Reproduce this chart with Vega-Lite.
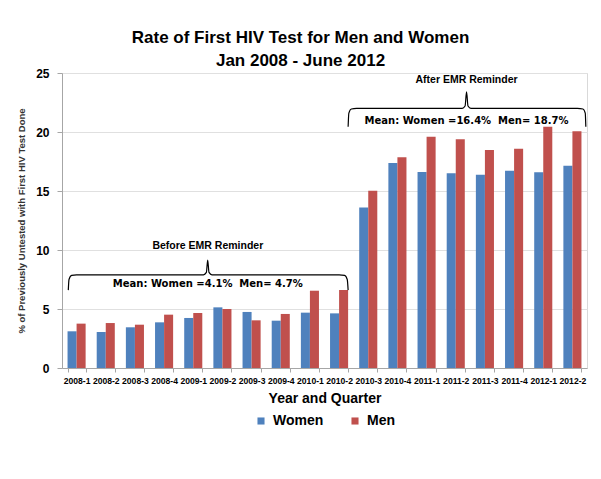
{
  "$schema": "https://vega.github.io/schema/vega-lite/v6.json",
  "width": 525,
  "height": 295,
  "autosize": {"type": "none"},
  "padding": {"left": 62, "top": 73, "right": 14, "bottom": 111},
  "background": "white",
  "title": {
    "text": ["Rate of First HIV Test for  Men and Women", "Jan 2008 - June 2012"],
    "fontSize": 17,
    "fontWeight": "bold",
    "font": "Liberation Sans",
    "color": "#000000",
    "lineHeight": 23,
    "anchor": "middle",
    "frame": "group",
    "dx": -24,
    "offset": -3
  },
  "datasets": {
    "bars": [
      {"q": "2008-1", "sex": "Women", "v": 3.11}, {"q": "2008-1", "sex": "Men", "v": 3.76},
      {"q": "2008-2", "sex": "Women", "v": 3.05}, {"q": "2008-2", "sex": "Men", "v": 3.81},
      {"q": "2008-3", "sex": "Women", "v": 3.45}, {"q": "2008-3", "sex": "Men", "v": 3.67},
      {"q": "2008-4", "sex": "Women", "v": 3.87}, {"q": "2008-4", "sex": "Men", "v": 4.52},
      {"q": "2009-1", "sex": "Women", "v": 4.24}, {"q": "2009-1", "sex": "Men", "v": 4.66},
      {"q": "2009-2", "sex": "Women", "v": 5.14}, {"q": "2009-2", "sex": "Men", "v": 5.0},
      {"q": "2009-3", "sex": "Women", "v": 4.75}, {"q": "2009-3", "sex": "Men", "v": 4.04},
      {"q": "2009-4", "sex": "Women", "v": 4.01}, {"q": "2009-4", "sex": "Men", "v": 4.58},
      {"q": "2010-1", "sex": "Women", "v": 4.69}, {"q": "2010-1", "sex": "Men", "v": 6.55},
      {"q": "2010-2", "sex": "Women", "v": 4.63}, {"q": "2010-2", "sex": "Men", "v": 6.61},
      {"q": "2010-3", "sex": "Women", "v": 13.6}, {"q": "2010-3", "sex": "Men", "v": 15.03},
      {"q": "2010-4", "sex": "Women", "v": 17.37}, {"q": "2010-4", "sex": "Men", "v": 17.85},
      {"q": "2011-1", "sex": "Women", "v": 16.61}, {"q": "2011-1", "sex": "Men", "v": 19.6},
      {"q": "2011-2", "sex": "Women", "v": 16.5}, {"q": "2011-2", "sex": "Men", "v": 19.38},
      {"q": "2011-3", "sex": "Women", "v": 16.38}, {"q": "2011-3", "sex": "Men", "v": 18.47},
      {"q": "2011-4", "sex": "Women", "v": 16.72}, {"q": "2011-4", "sex": "Men", "v": 18.59},
      {"q": "2012-1", "sex": "Women", "v": 16.58}, {"q": "2012-1", "sex": "Men", "v": 20.45},
      {"q": "2012-2", "sex": "Women", "v": 17.15}, {"q": "2012-2", "sex": "Men", "v": 20.06}
    ],
    "braces": [
      {"brace": "before", "bx": 0.216, "v": 6.6},
      {"brace": "before", "bx": 0.24, "v": 7.5},
      {"brace": "before", "bx": 0.33, "v": 7.85},
      {"brace": "before", "bx": 0.5, "v": 7.9},
      {"brace": "before", "bx": 4.85, "v": 7.9},
      {"brace": "before", "bx": 4.95, "v": 8.1},
      {"brace": "before", "bx": 4.995, "v": 9.15},
      {"brace": "before", "bx": 5.04, "v": 8.1},
      {"brace": "before", "bx": 5.14, "v": 7.9},
      {"brace": "before", "bx": 9.5, "v": 7.9},
      {"brace": "before", "bx": 9.69, "v": 7.85},
      {"brace": "before", "bx": 9.78, "v": 7.5},
      {"brace": "before", "bx": 9.81, "v": 6.6},
      {"brace": "after", "bx": 9.81, "v": 20.45},
      {"brace": "after", "bx": 9.835, "v": 21.6},
      {"brace": "after", "bx": 9.92, "v": 21.95},
      {"brace": "after", "bx": 10.1, "v": 22.0},
      {"brace": "after", "bx": 13.72, "v": 22.0},
      {"brace": "after", "bx": 13.82, "v": 22.2},
      {"brace": "after", "bx": 13.87, "v": 23.4},
      {"brace": "after", "bx": 13.92, "v": 22.2},
      {"brace": "after", "bx": 14.02, "v": 22.0},
      {"brace": "after", "bx": 17.67, "v": 22.0},
      {"brace": "after", "bx": 17.86, "v": 21.95},
      {"brace": "after", "bx": 17.94, "v": 21.6},
      {"brace": "after", "bx": 17.96, "v": 20.45}
    ],
    "heads": [
      {"bx": 5.0, "v": 10.3, "label": "Before EMR Reminder"},
      {"bx": 13.87, "v": 24.4, "label": "After EMR Reminder"}
    ],
    "means": [
      {"bx": 5.0, "v": 7.1, "label": "Mean: Women =4.1%\u00a0 Men= 4.7%"},
      {"bx": 13.87, "v": 20.9, "label": "Mean: Women =16.4%\u00a0 Men= 18.7%"}
    ]
  },
  "layer": [
    {
      "data": {"name": "bars"},
      "mark": {"type": "bar"},
      "encoding": {
        "x": {
          "field": "q", "type": "nominal", "sort": null,
          "scale": {"paddingInner": 0.38, "paddingOuter": 0.19},
          "axis": {
            "title": "Year and Quarter",
            "labelAngle": 0,
            "labelFontSize": 8.6,
            "labelFontWeight": "bold",
            "labelColor": "#000000",
            "labelOverlap": false,
            "labelPadding": 4,
            "tickBand": "extent",
            "tickSize": 4,
            "tickColor": "#a6a6a6",
            "domainColor": "#a6a6a6",
            "titleFontSize": 14,
            "titleFontWeight": "bold",
            "titleColor": "#000000",
            "titlePadding": 7
          }
        },
        "xOffset": {"field": "sex", "type": "nominal", "sort": ["Women", "Men"]},
        "y": {
          "field": "v", "type": "quantitative",
          "scale": {"domain": [0, 25], "nice": false},
          "axis": {
            "title": "% of Previously Untested with First HIV Test Done",
            "values": [0, 5, 10, 15, 20, 25],
            "labelFontSize": 12,
            "labelFontWeight": "bold",
            "labelColor": "#000000",
            "labelPadding": 8,
            "tickSize": 5,
            "tickColor": "#a6a6a6",
            "domainColor": "#a6a6a6",
            "gridColor": "#e0e0e0",
            "titleFontSize": 9.5,
            "titleFontWeight": "bold",
            "titleColor": "#333333",
            "titlePadding": 9
          }
        },
        "color": {
          "field": "sex", "type": "nominal",
          "scale": {"domain": ["Women", "Men"], "range": ["#4F81BD", "#C0504D"]},
          "legend": {
            "title": null,
            "orient": "bottom",
            "direction": "horizontal",
            "labelFontSize": 14,
            "labelFontWeight": "bold",
            "labelColor": "#000000",
            "labelOffset": 5,
            "symbolType": "square",
            "symbolSize": 50,
            "symbolStrokeWidth": 0,
            "columnPadding": 24,
            "offset": 8
          }
        }
      }
    },
    {
      "data": {"name": "braces"},
      "mark": {"type": "line", "interpolate": "monotone", "color": "#000000", "strokeWidth": 1.2},
      "encoding": {
        "x": {"field": "bx", "type": "quantitative", "scale": {"domain": [0, 18], "nice": false, "zero": false}, "axis": null},
        "y": {"field": "v", "type": "quantitative"},
        "detail": {"field": "brace"}
      }
    },
    {
      "data": {"name": "heads"},
      "mark": {"type": "text", "fontSize": 10.5, "fontWeight": "bold", "color": "#000000"},
      "encoding": {
        "x": {"field": "bx", "type": "quantitative", "scale": {"domain": [0, 18], "nice": false, "zero": false}, "axis": null},
        "y": {"field": "v", "type": "quantitative"},
        "text": {"field": "label"}
      }
    },
    {
      "data": {"name": "means"},
      "mark": {"type": "text", "fontSize": 10, "fontWeight": "bold", "font": "DejaVu Sans", "color": "#000000"},
      "encoding": {
        "x": {"field": "bx", "type": "quantitative", "scale": {"domain": [0, 18], "nice": false, "zero": false}, "axis": null},
        "y": {"field": "v", "type": "quantitative"},
        "text": {"field": "label"}
      }
    }
  ],
  "resolve": {"scale": {"x": "independent"}, "axis": {"x": "independent"}},
  "config": {
    "font": "Liberation Sans",
    "view": {"stroke": "#d9d9d9"},
    "legend": {"layout": {"bottom": {"anchor": "middle"}}}
  }
}
